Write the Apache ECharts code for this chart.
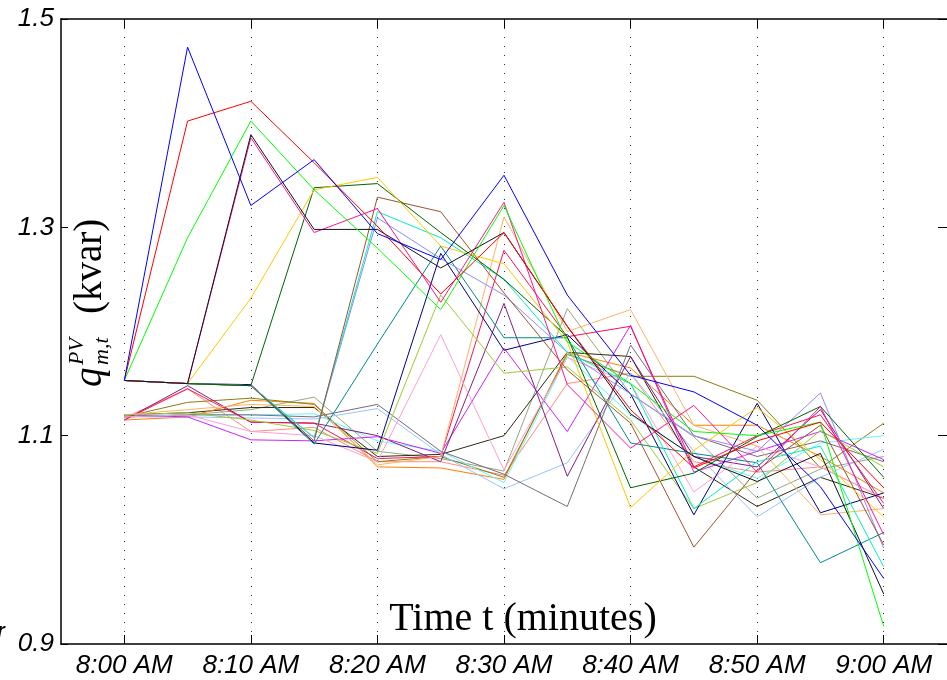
<!DOCTYPE html>
<html>
<head>
<meta charset="utf-8">
<script src="https://cdn.jsdelivr.net/npm/echarts@6/dist/echarts.min.js"></script>
<style>
html,body{margin:0;padding:0;background:#fff;}
#chart{width:947px;height:680px;}
</style>
</head>
<body>
<div id="chart"></div>
<script>
// x axis categories (5-minute steps; the first and last are the empty margins of the axis)
const axisCategories = ['7:55 AM','8:00 AM','8:05 AM','8:10 AM','8:15 AM','8:20 AM','8:25 AM','8:30 AM','8:35 AM','8:40 AM','8:45 AM','8:50 AM','8:55 AM','9:00 AM','9:05 AM'];
// sample times of the series
const times = ['8:00 AM','8:05 AM','8:10 AM','8:15 AM','8:20 AM','8:25 AM','8:30 AM','8:35 AM','8:40 AM','8:45 AM','8:50 AM','8:55 AM','9:00 AM'];
// y tick labels
const yTicks = [0.9, 1.1, 1.3, 1.5];

// series values (kvar), one per time
const sBlue       = [1.153,1.473,1.321,1.365,1.294,1.269,1.350,1.235,1.158,1.142,1.110,1.051,0.963];
const sRed        = [1.153,1.402,1.421,1.362,1.301,1.236,1.295,1.205,1.125,1.069,1.095,1.113,1.050];
const sGreen      = [1.153,1.290,1.402,1.336,1.280,1.221,1.321,1.190,1.150,1.104,1.100,1.113,0.917];
const sBlack      = [1.153,1.150,1.389,1.298,1.298,1.261,1.295,1.205,1.121,1.080,1.056,1.083,0.948];
const sDeepPink   = [1.153,1.150,1.386,1.295,1.318,1.228,1.324,1.149,1.088,1.129,1.065,1.128,1.005];
const sGold       = [1.153,1.150,1.232,1.336,1.348,1.282,1.265,1.190,1.031,1.086,1.127,1.077,1.022];
const sDarkGreen  = [1.153,1.150,1.148,1.338,1.342,1.295,1.250,1.195,1.050,1.064,1.099,1.128,1.060];
const sBrown      = [1.153,1.150,1.148,1.095,1.329,1.315,1.237,1.163,1.112,0.993,1.067,1.110,0.995];
const sTurquoise  = [1.153,1.150,1.148,1.098,1.315,1.290,1.250,1.180,1.150,1.030,1.075,1.090,0.974];
const sLavender   = [1.153,1.150,1.148,1.098,1.309,1.270,1.235,1.180,1.140,1.100,1.085,1.141,0.992];
const sTeal       = [1.153,1.150,1.148,1.092,1.188,1.282,1.194,1.194,1.093,1.083,1.074,0.978,1.007];
const sNavy       = [1.153,1.150,1.149,1.093,1.086,1.275,1.182,1.197,1.140,1.024,1.131,1.026,1.045];
const sYellowGreen= [1.120,1.122,1.115,1.105,1.083,1.235,1.160,1.166,1.115,1.030,1.055,1.105,1.070];
const sLightPink  = [1.118,1.120,1.104,1.100,1.075,1.197,1.067,1.175,1.150,1.046,1.090,1.070,1.040];
const sLightOrange= [1.120,1.125,1.130,1.128,1.072,1.080,1.310,1.200,1.221,1.110,1.090,1.024,1.030];
const sCrimson    = [1.115,1.145,1.113,1.112,1.078,1.080,1.278,1.195,1.205,1.070,1.100,1.120,1.035];
const sPurple     = [1.115,1.148,1.113,1.112,1.100,1.075,1.227,1.061,1.176,1.080,1.070,1.125,1.030];
const sMagenta    = [1.120,1.118,1.096,1.095,1.099,1.083,1.184,1.104,1.206,1.065,1.085,1.104,1.077];
const sGrayPurple = [1.118,1.120,1.120,1.118,1.130,1.085,1.063,1.032,1.187,1.100,1.080,1.095,1.075];
const sSkyBlue    = [1.118,1.118,1.117,1.116,1.126,1.082,1.049,1.074,1.160,1.085,1.022,1.060,1.087];
const sCyan       = [1.120,1.120,1.120,1.121,1.095,1.085,1.055,1.176,1.120,1.080,1.059,1.093,1.100];
const sOlive      = [1.118,1.132,1.136,1.130,1.075,1.080,1.060,1.178,1.157,1.157,1.134,1.069,1.112];
const sOrange     = [1.115,1.118,1.134,1.131,1.070,1.069,1.058,1.180,1.165,1.110,1.110,1.080,1.045];
const sDarkOlive  = [1.120,1.122,1.127,1.127,1.080,1.082,1.100,1.180,1.176,1.070,1.032,1.060,1.040];
const sSage       = [1.118,1.120,1.125,1.137,1.085,1.078,1.066,1.222,1.140,1.099,1.040,1.068,1.080];
const sSalmon     = [1.117,1.145,1.104,1.108,1.075,1.075,1.062,1.150,1.160,1.075,1.065,1.070,1.040];

const seriesList = [
  [sSalmon,'#ff8c7a'],[sSage,'#94a884'],[sDarkOlive,'#2b2b10'],[sOrange,'#ff8000'],
  [sOlive,'#8b7d10'],[sCyan,'#66f5ff'],[sSkyBlue,'#99c2ff'],[sGrayPurple,'#7a6a7a'],
  [sMagenta,'#cc22ff'],[sPurple,'#7f1f7f'],[sCrimson,'#ff1050'],[sLightOrange,'#ffb266'],
  [sLightPink,'#ffa0d0'],[sYellowGreen,'#9acd32'],[sNavy,'#000080'],[sTeal,'#008b8b'],
  [sLavender,'#8c8cff'],[sTurquoise,'#00f0c0'],[sBrown,'#a0522d'],[sDarkGreen,'#006400'],
  [sGold,'#ffc800'],[sDeepPink,'#ff1493'],[sBlack,'#111122'],[sGreen,'#00ff00'],
  [sRed,'#ff0000'],[sBlue,'#0000ff']
];

const chart = echarts.init(document.getElementById('chart'), null, {renderer:'canvas'});
const showOdd = function (idx) { return idx % 2 === 1; };
const labelFont = {fontFamily:'Liberation Sans', fontStyle:'italic', fontSize:26, color:'#000'};

const option = {
  animation: false,
  backgroundColor: '#fff',
  grid: {left: 61, top: 19, right: 0, bottom: 36, containLabel: false},
  xAxis: [{
    type: 'category', data: axisCategories, boundaryGap: false, position: 'bottom',
    axisLine: {show: true, lineStyle: {color: '#000', width: 1.5}},
    axisTick: {show: true, inside: true, length: 9, interval: showOdd, lineStyle: {color: '#000', width: 1}},
    axisLabel: Object.assign({interval: showOdd, margin: 9}, labelFont),
    splitLine: {show: true, interval: showOdd, lineStyle: {color: '#333', width: 1, type: [1, 8]}}
  }, {
    type: 'category', data: axisCategories, boundaryGap: false, position: 'top',
    axisLine: {show: true, lineStyle: {color: '#000', width: 1.5}},
    axisTick: {show: true, inside: true, length: 9, interval: showOdd, lineStyle: {color: '#000', width: 1}},
    axisLabel: {show: false},
    splitLine: {show: false}
  }],
  yAxis: [{
    type: 'value', min: 0.9, max: 1.5, position: 'left',
    axisLine: {show: true, lineStyle: {color: '#000', width: 1.5}},
    axisTick: {show: true, inside: true, length: 7, customValues: yTicks, lineStyle: {color: '#000'}},
    axisLabel: Object.assign({customValues: yTicks, margin: 7, formatter: function (v) { return v.toFixed(1); }}, labelFont),
    splitLine: {show: false}
  }, {
    type: 'value', min: 0.9, max: 1.5, position: 'right',
    axisLine: {show: false},
    axisTick: {show: true, inside: true, length: 9, customValues: yTicks, lineStyle: {color: '#000'}},
    axisLabel: {show: false},
    splitLine: {show: false}
  }],
  series: seriesList.map(function (s) {
    return {
      type: 'line', xAxisIndex: 0, yAxisIndex: 0,
      data: s[0].map(function (v, i) { return [times[i], v]; }),
      symbol: 'none', showSymbol: false,
      lineStyle: {color: s[1], width: 1}, itemStyle: {color: s[1]},
      emphasis: {disabled: true}, silent: true
    };
  }),
  graphic: [
    {
      type: 'text', x: 523, y: 619, z: 100,
      style: {text: 'Time t (minutes)', fontFamily: 'Liberation Serif', fontSize: 40, fill: '#000', textAlign: 'center', textVerticalAlign: 'middle'}
    },
    {
      type: 'group', x: 102, y: 387, rotation: Math.PI / 2, z: 100,
      children: [
        {type: 'text', x: 0, y: -11, style: {text: 'q', fontFamily: 'Liberation Serif', fontStyle: 'italic', fontSize: 39, fill: '#000', textAlign: 'left', textVerticalAlign: 'middle'}},
        {type: 'text', x: 22, y: -25, style: {text: 'PV', fontFamily: 'Liberation Serif', fontStyle: 'italic', fontSize: 22, fill: '#000', textAlign: 'left', textVerticalAlign: 'middle'}},
        {type: 'text', x: 22, y: 0, style: {text: 'm,t', fontFamily: 'Liberation Serif', fontStyle: 'italic', fontSize: 22, fill: '#000', textAlign: 'left', textVerticalAlign: 'middle'}},
        {type: 'text', x: 73, y: -11, style: {text: '(kvar)', fontFamily: 'Liberation Serif', fontSize: 39, fill: '#000', textAlign: 'left', textVerticalAlign: 'middle'}}
      ]
    },
    {
      type: 'text', x: -3, y: 621, z: 100,
      style: {text: 'r', fontFamily: 'Liberation Sans', fontStyle: 'italic', fontWeight: 'bold', fontSize: 20, fill: '#000'}
    }
  ]
};
chart.setOption(option);
</script>
</body>
</html>
